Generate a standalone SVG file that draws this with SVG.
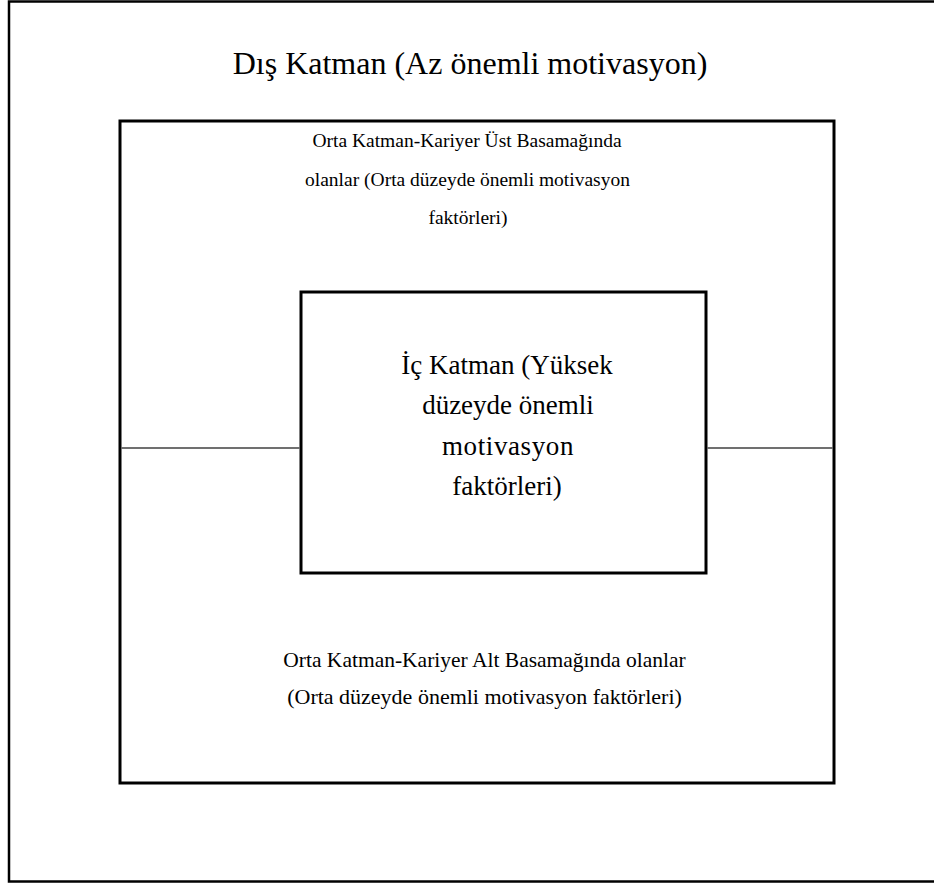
<svg xmlns="http://www.w3.org/2000/svg" width="934" height="883" viewBox="0 0 934 883">
<style>
.box{fill:none;stroke:#000;}
.t{font-family:"Liberation Serif","Times New Roman",serif;fill:#000;text-anchor:middle;}
.conn{stroke:#404040;stroke-width:1.5;fill:none;}
</style>
<rect width="934" height="883" fill="#fff"/>
<g id="outer">
<rect class="box" x="9" y="1.5" width="1000" height="880" stroke-width="2.5"/>
<text class="t" x="470" y="74" font-size="32">Dış Katman (Az önemli motivasyon)</text>
</g>
<g id="middle">
<rect class="box" x="120" y="121" width="714" height="662" stroke-width="3"/>
<text class="t" x="467" y="147" font-size="19.5">Orta Katman-Kariyer Üst Basamağında</text>
<text class="t" x="467.5" y="186" font-size="19.5">olanlar (Orta düzeyde önemli motivasyon</text>
<text class="t" x="468" y="224" font-size="19.5">faktörleri)</text>
<text class="t" x="484.5" y="667" font-size="21.5">Orta Katman-Kariyer Alt Basamağında olanlar</text>
<text class="t" x="484.5" y="704" font-size="22">(Orta düzeyde önemli motivasyon faktörleri)</text>
</g>
<g id="inner">
<rect class="box" x="301" y="292" width="405" height="281" stroke-width="3"/>
<text class="t" x="507" y="374" font-size="27">İç Katman (Yüksek</text>
<text class="t" x="508" y="414" font-size="27">düzeyde önemli</text>
<text class="t" x="508" y="455" font-size="27" letter-spacing="0.6">motivasyon</text>
<text class="t" x="507" y="495" font-size="27">faktörleri)</text>
</g>
<g id="connectors">
<line class="conn" x1="121.5" y1="448" x2="299.5" y2="448"/>
<line class="conn" x1="707.5" y1="448" x2="832.5" y2="448"/>
</g>
</svg>
